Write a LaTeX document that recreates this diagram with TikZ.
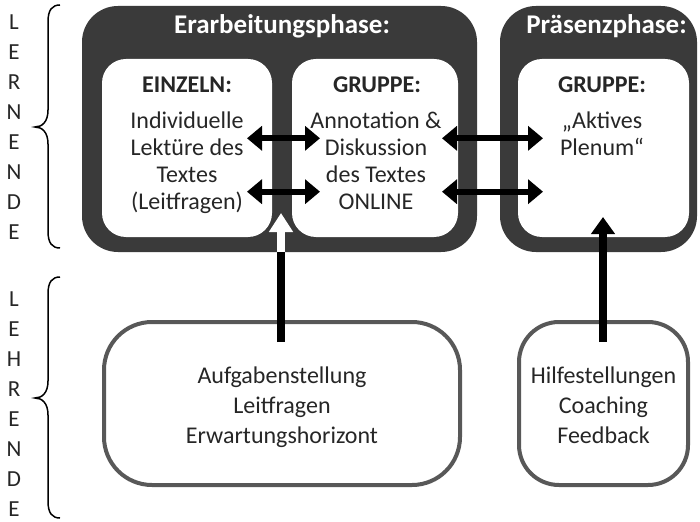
\documentclass[tikz,border=0pt]{standalone}
\usepackage{fontspec}
\setmainfont{Carlito}
\usetikzlibrary{arrows.meta}
\definecolor{phasefill}{HTML}{3A3A3A}
\definecolor{inktext}{HTML}{262626}
\definecolor{framegray}{HTML}{585858}

\begin{document}
\begin{tikzpicture}[x=1pt,y=-1pt,
  phasebox/.style={fill=phasefill, draw=none, rounded corners=36pt, inner sep=0pt},
  workbox/.style={fill=white, draw=none, rounded corners=24pt, inner sep=0pt},
  helpbox/.style={fill=white, draw=framegray, line width=4pt, inner sep=0pt},
  titletext/.style={text=white, font=\fontsize{27}{30}\selectfont\bfseries, inner sep=0pt, anchor=base},
  headtext/.style={text=inktext, font=\fontsize{24}{27}\selectfont\bfseries, inner sep=0pt, anchor=base},
  bodytext/.style={text=inktext, font=\fontsize{24}{27}\selectfont, align=center, inner sep=0pt, anchor=north},
  helptext/.style={text=inktext, font=\fontsize{24}{30}\selectfont, align=center, inner sep=0pt, anchor=north},
  sidetext/.style={text=inktext, font=\fontsize{23}{30}\selectfont, align=center, inner sep=0pt, anchor=north},
  dblarrow/.style={line width=6pt, {Triangle[length=15pt,width=24pt]}-{Triangle[length=15pt,width=24pt]}},
  bracepen/.style={line width=1.5pt, black}
]
\useasboundingbox (0,0) rectangle (700,521);

% side labels and braces
\node[sidetext] (lernende) at (14,8.5) {\strut L\\E\\R\\N\\E\\N\\D\\E};
\node[sidetext] (lehrende) at (14,285.5) {\strut L\\E\\H\\R\\E\\N\\D\\E};
\draw[bracepen] (60,5) .. controls (52,5) and (48,10) .. (48,22) -- (48,110)
  .. controls (48,122) and (42,127) .. (35,127)
  .. controls (42,127) and (48,132) .. (48,144) -- (48,231)
  .. controls (48,243) and (52,248) .. (60,248);
\draw[bracepen] (60,277) .. controls (52,277) and (48,282) .. (48,294) -- (48,381)
  .. controls (48,393) and (42,398) .. (35,398)
  .. controls (42,398) and (48,403) .. (48,415) -- (48,501)
  .. controls (48,513) and (52,518) .. (60,518);

% phases
\node[phasebox, minimum width=395pt, minimum height=246pt] (phase1) at (279.5,129) {};
\node[phasebox, minimum width=197pt, minimum height=246pt] (phase2) at (598.5,129) {};
\node[titletext] (title1) at (282,34) {Erarbeitungsphase:};
\node[titletext] (title2) at (606.5,34) {Präsenzphase:};

% working boxes
\node[workbox, minimum width=170pt, minimum height=178pt] (einzeln) at (187,148) {};
\node[workbox, minimum width=166pt, minimum height=178pt] (gruppe) at (375,148) {};
\node[workbox, minimum width=171pt, minimum height=178pt] (plenum) at (603.5,148) {};

\node[headtext] (einzelnhead) at (187,93) {EINZELN:};
\node[headtext] (gruppehead) at (377,93) {GRUPPE:};
\node[headtext] (plenumhead) at (602,93) {GRUPPE:};

\node[bodytext] (einzelntext) at (187,109.1) {\strut Individuelle\\Lektüre des\\Textes\\(Leitfragen)};
\node[bodytext] (gruppetext) at (376,109.1) {\strut Annotation \&\\Diskussion\\des Textes\\ONLINE};
\node[bodytext] (plenumtext) at (602,109.1) {\strut „Aktives\\Plenum“};

% teacher boxes
\node[helpbox, rounded corners=48pt, minimum width=356pt, minimum height=163pt] (aufgaben) at (282,403.5) {};
\node[helpbox, rounded corners=40pt, minimum width=169pt, minimum height=163pt] (hilfe) at (603.5,403.5) {};
\node[helptext] (aufgabentext) at (282,362) {\strut Aufgabenstellung\\Leitfragen\\Erwartungshorizont};
\node[helptext] (hilfetext) at (603.5,362) {\strut Hilfestellungen\\Coaching\\Feedback};

% exchange arrows
\coordinate (e1) at (247,138.3); \coordinate (g1) at (320,138.3);
\coordinate (e2) at (247,191.7); \coordinate (g2) at (320,191.7);
\coordinate (g3) at (442,138.3); \coordinate (p3) at (543,138.3);
\coordinate (g4) at (442,191.7); \coordinate (p4) at (543,191.7);
\draw[dblarrow] (e1) -- (g1);
\draw[dblarrow] (e2) -- (g2);
\draw[dblarrow] (g3) -- (p3);
\draw[dblarrow] (g4) -- (p4);

% support arrows
\coordinate (a1start) at (281,342); \coordinate (a1edge) at (281,252); \coordinate (a1tip) at (281,213);
\coordinate (a2start) at (603,342); \coordinate (a2tip) at (603,217);
\draw[line width=7.5pt, black] (a1start) -- (a1edge);
\draw[line width=7.5pt, white, -{Triangle[length=19pt,width=23pt]}] (a1edge) -- (a1tip);
\draw[line width=8pt, black, -{Triangle[length=17pt,width=23pt]}] (a2start) -- (a2tip);
\end{tikzpicture}
\end{document}
